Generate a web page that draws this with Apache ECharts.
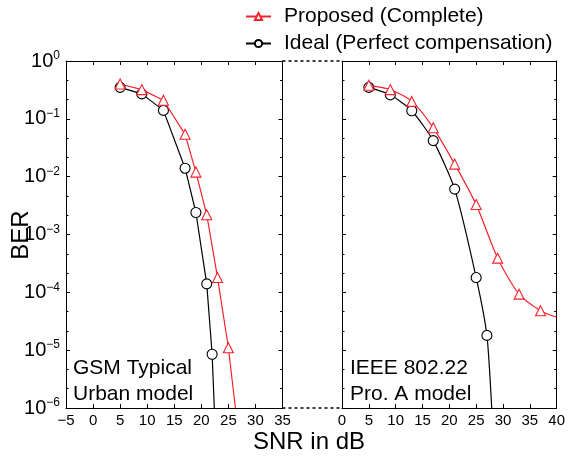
<!DOCTYPE html>
<html>
<head>
<meta charset="utf-8">
<script src="https://cdn.jsdelivr.net/npm/echarts@6/dist/echarts.min.js"></script>
<style>
html, body { margin: 0; padding: 0; background: #fff; }
#chart { width: 568px; height: 456px; }
</style>
</head>
<body>
<div id="chart"></div>
<script>
// values (SNR in dB, BER)
// the last point of each curve is only where the line leaves the frame (no marker)
const leftSnrProposed = [5, 9, 13, 17, 19, 21, 23, 25, 26.3];
const leftBerProposed = [0.40, 0.32, 0.21, 0.054, 0.012, 0.0022, 1.8e-4, 1.1e-5, 1e-6];
const leftSnrIdeal = [5, 9, 13, 17, 19, 21, 22, 22.4];
const leftBerIdeal = [0.35, 0.27, 0.14, 0.014, 0.0024, 1.4e-4, 8.5e-6, 1e-6];

const rightSnrProposed = [5, 9, 13, 17, 21, 25, 29, 33, 37, 40];
const rightBerProposed = [0.38, 0.32, 0.20, 0.070, 0.0165, 0.0033, 3.9e-4, 9.3e-5, 4.8e-5, 3.7e-5];
const rightSnrIdeal = [5, 9, 13, 17, 21, 25, 27, 27.9];
const rightBerIdeal = [0.35, 0.26, 0.138, 0.042, 0.0061, 1.8e-4, 1.8e-5, 1e-6];

const seriesNames = ['Proposed (Complete)', 'Ideal (Perfect compensation)'];
const panelNotes = ['GSM Typical\nUrban model', 'IEEE 802.22\nPro. A model'];

const FONT = 'Liberation Sans, Arial, Helvetica, sans-serif';
const RED = '#f5222d';

// BER axis is drawn as log10(BER) on a value axis so the minor ticks sit per decade
function toPoints(xs, ys) {
  return xs.map(function (x, i) {
    const p = { value: [x, Math.log10(ys[i])] };
    if (i === xs.length - 1) p.symbol = 'none';
    return p;
  });
}

function minus(v) {
  return v < 0 ? '\u2212' + Math.abs(v) : String(v);
}

const axisLine = { show: true, onZero: false, lineStyle: { color: '#000', width: 1 } };
const axisTick = { show: true, inside: true, length: 4, lineStyle: { color: '#000', width: 1 } };

function xAx(grid, min, max, pos, labels) {
  return {
    gridIndex: grid, type: 'value', min: min, max: max, interval: 5, position: pos,
    axisLine: axisLine, axisTick: axisTick, splitLine: { show: false },
    axisLabel: {
      show: labels, margin: 5, color: '#000', fontSize: 15, fontFamily: FONT,
      formatter: minus
    }
  };
}

function yAx(grid, pos, labels) {
  return {
    gridIndex: grid, type: 'value', min: -6, max: 0, interval: 1, position: pos,
    axisLine: axisLine, axisTick: axisTick, splitLine: { show: false },
    minorTick: { show: true, splitNumber: 3, length: 2.5, lineStyle: { color: '#000', width: 1 } },
    axisLabel: {
      show: labels, margin: 6, color: '#000', fontFamily: FONT,
      formatter: function (v) {
        return '{b|10}{s|' + minus(Math.round(v)) + '}';
      },
      rich: {
        b: { fontSize: 20, fontFamily: FONT, color: '#000', lineHeight: 22 },
        s: { fontSize: 12, fontFamily: FONT, color: '#000', verticalAlign: 'top', lineHeight: 12, padding: [0, 0, 8, 0] }
      }
    }
  };
}

function lineSeries(name, xAxisIndex, xs, ys, smooth) {
  const prop = name === seriesNames[0];
  const col = prop ? RED : '#000';
  return {
    name: name, type: 'line', xAxisIndex: xAxisIndex, yAxisIndex: xAxisIndex,
    data: toPoints(xs, ys),
    smooth: smooth,
    symbol: prop ? 'triangle' : 'circle',
    symbolSize: prop ? 10 : 10,
    lineStyle: { color: col, width: 1.2 },
    itemStyle: { color: '#fff', borderColor: col, borderWidth: 1.1 },
    z: prop ? 3 : 2
  };
}

const chart = echarts.init(document.getElementById('chart'));

chart.setOption({
  animation: false,
  backgroundColor: '#fff',
  grid: [
    { left: 66, top: 61, width: 216.5, height: 347 },
    { left: 342, top: 61, width: 216, height: 347 }
  ],
  legend: {
    orient: 'vertical', left: 240, top: 1,
    itemWidth: 25, itemHeight: 9, itemGap: 6,
    textStyle: { fontSize: 21, fontFamily: FONT, color: '#000', lineHeight: 21, padding: [0, 0, 0, 8] },
    data: seriesNames
  },
  xAxis: [
    xAx(0, -5, 35, 'bottom', true),
    xAx(0, -5, 35, 'top', false),
    xAx(1, 0, 40, 'bottom', true),
    xAx(1, 0, 40, 'top', false)
  ],
  yAxis: [
    yAx(0, 'left', true),
    yAx(0, 'right', false),
    yAx(1, 'left', false),
    yAx(1, 'right', false)
  ],
  series: [
    lineSeries(seriesNames[0], 0, leftSnrProposed, leftBerProposed, false),
    lineSeries(seriesNames[1], 0, leftSnrIdeal, leftBerIdeal, false),
    lineSeries(seriesNames[0], 2, rightSnrProposed, rightBerProposed, 0.25),
    lineSeries(seriesNames[1], 2, rightSnrIdeal, rightBerIdeal, 0.2)
  ]
});

// dotted lines joining the two frames, plus axis titles and panel notes
const tl = chart.convertToPixel({ gridIndex: 0 }, [35, 0]);
const bl = chart.convertToPixel({ gridIndex: 0 }, [35, -6]);
const tr = chart.convertToPixel({ gridIndex: 1 }, [0, 0]);
const br = chart.convertToPixel({ gridIndex: 1 }, [0, -6]);
const dotted = { stroke: '#000', lineWidth: 1.5, lineDash: [3, 3] };

chart.setOption({
  graphic: [
    { type: 'line', shape: { x1: tl[0], y1: tl[1], x2: tr[0], y2: tr[1] }, style: dotted },
    { type: 'line', shape: { x1: bl[0], y1: bl[1], x2: br[0], y2: br[1] }, style: dotted },
    {
      type: 'text', left: 73, top: 355,
      style: { text: panelNotes[0], font: '21px ' + FONT, fill: '#000', lineHeight: 26 }
    },
    {
      type: 'text', left: 350, top: 355,
      style: { text: panelNotes[1], font: '21px ' + FONT, fill: '#000', lineHeight: 26 }
    },
    {
      type: 'text', x: 309, y: 442,
      style: { text: 'SNR in dB', font: '24px ' + FONT, fill: '#000', align: 'center', verticalAlign: 'middle' }
    },
    {
      type: 'text', x: 21, y: 235, rotation: Math.PI / 2,
      style: { text: 'BER', font: '24px ' + FONT, fill: '#000', align: 'center', verticalAlign: 'middle' }
    }
  ]
});
</script>
</body>
</html>
